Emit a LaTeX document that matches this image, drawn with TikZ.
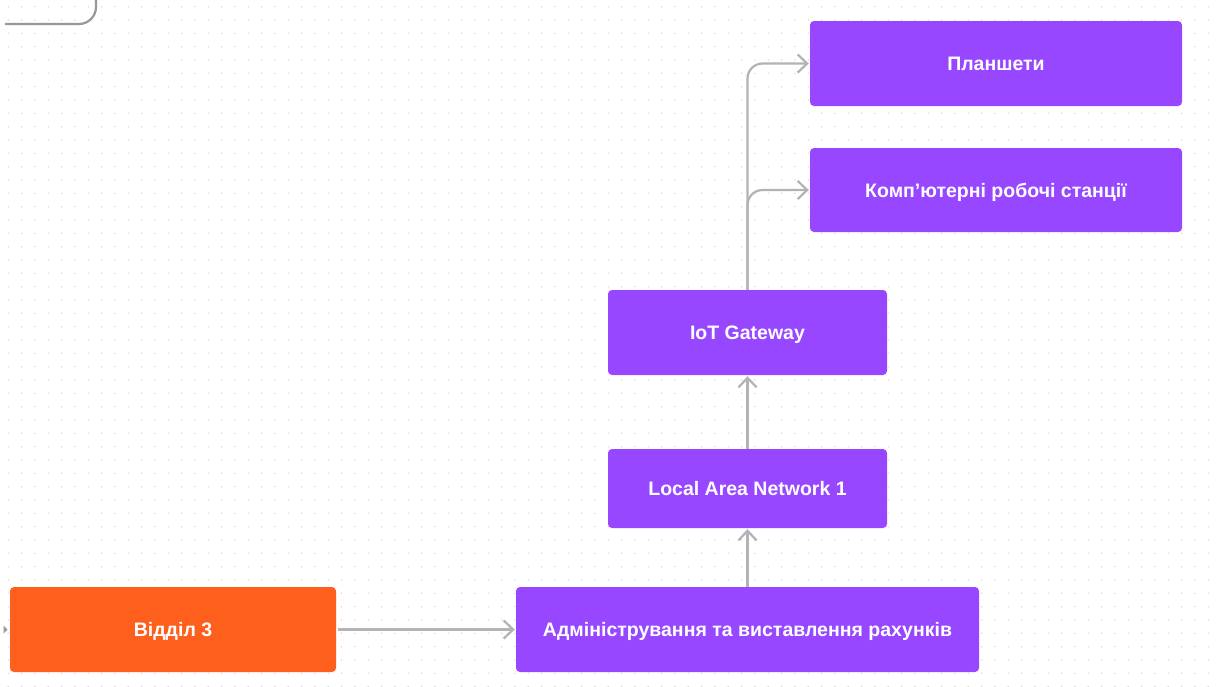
\documentclass[tikz,border=0pt]{standalone}
\usepackage{fontspec}
\setmainfont{Liberation Sans}
\usetikzlibrary{arrows.meta}
\definecolor{boxpurple}{HTML}{9747FF}
\definecolor{boxorange}{HTML}{FF5F1C}
\definecolor{linkgray}{HTML}{B3B3B3}
\definecolor{dotgray}{HTML}{D2D2D2}
\tikzset{
  box/.style={rectangle, rounded corners=4pt, fill=boxpurple, text=white,
    font=\bfseries\fontsize{19.5}{22}\selectfont, inner sep=0pt,
    text height=14pt, text depth=0pt},
  link/.style={draw=linkgray, line width=2.2pt,
    -{Straight Barb[length=9.5pt,width=18pt,line width=2.2pt]}},
}
\begin{document}
\begin{tikzpicture}[x=1pt,y=-1pt]
\useasboundingbox (0,0) rectangle (1218,686);
\fill[white] (0,0) rectangle (1218,686);
% dotted canvas
\foreach \i in {0,...,90}{
  \foreach \j in {0,...,51}{
    \fill[dotgray] ({8.3+\i*13.333},{6.7+\j*13.333}) circle (0.75);
  }
}
% frame corner at the top left
\coordinate (fa) at (5,24);
\coordinate (fb) at (96,-4);
\draw[draw=linkgray!85!black, line width=2.2pt, rounded corners=17pt] (fa) -| (fb);
% incoming tip at the left edge
\fill[gray!80] (3.5,625.5) -- (7.5,629.5) -- (3.5,633.5) -- cycle;

% boxes
\node[box, minimum width=372pt, minimum height=85pt] (plan) at (996,63.5) {Планшети};
\node[box, minimum width=372pt, minimum height=84pt] (comp) at (996,190) {Комп’ютерні робочі станції};
\node[box, minimum width=279pt, minimum height=85pt] (iot) at (747.5,332.5) {IoT Gateway};
\node[box, minimum width=279pt, minimum height=79pt] (lan) at (747.5,488.5) {Local Area Network 1};
\node[box, minimum width=463pt, minimum height=85pt] (adm) at (747.5,629.5) {Адміністрування та виставлення рахунків};
\node[box, fill=boxorange, minimum width=326pt, minimum height=85pt] (dep) at (173,629.5) {Відділ 3};

% connectors
\draw[link, shorten >=1pt] (dep.east) ++(2,0) -- (adm.west);
\draw[link, shorten >=1pt] (adm.north) -- (lan.south);
\draw[link, shorten >=1pt] (lan.north) -- (iot.south);
\draw[link, rounded corners=15pt, shorten >=1pt] (iot.north) |- (plan.west);
\draw[link, rounded corners=15pt, shorten >=1pt] (iot.north) |- (comp.west);
\end{tikzpicture}
\end{document}
